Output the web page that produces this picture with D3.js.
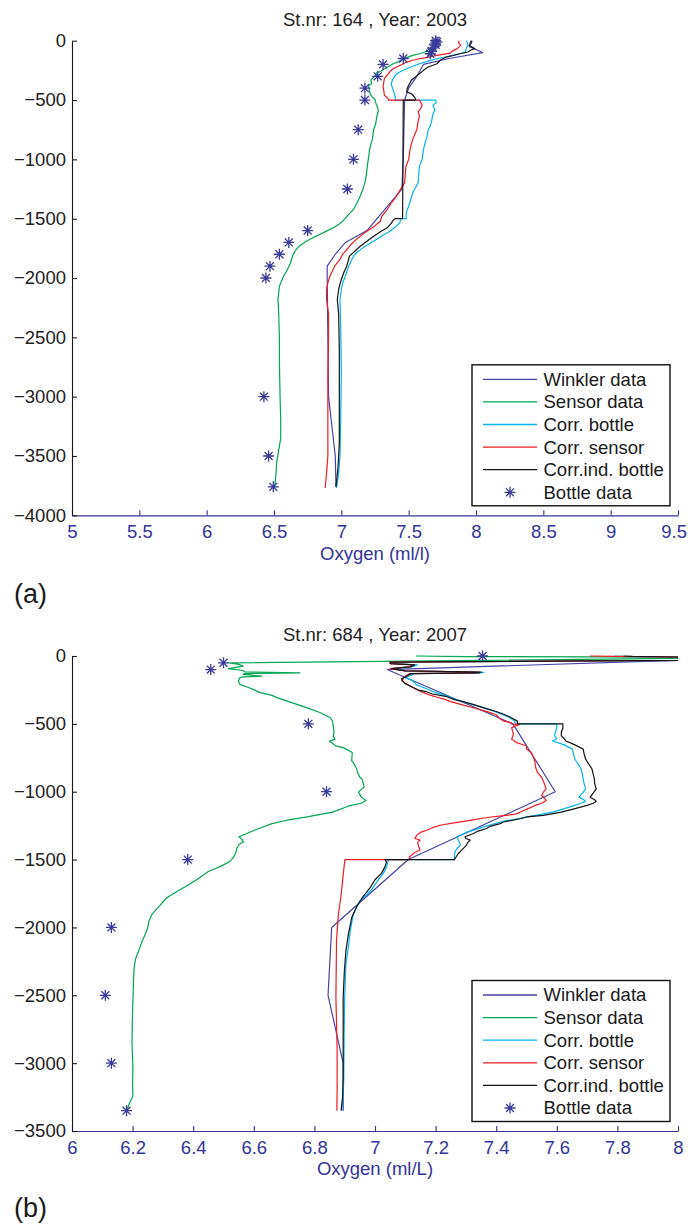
<!DOCTYPE html>
<html>
<head>
<meta charset="utf-8">
<script src="https://cdn.jsdelivr.net/npm/d3@7"></script>
<style>
  body { margin: 0; background: #fff; }
  svg text { font-family: "Liberation Sans", Arial, Helvetica, sans-serif; }
</style>
</head>
<body>
<svg id="fig" width="688" height="1225"></svg>
<script>
// ---------------------------------------------------------------
// Oxygen profiles: [depth (m), oxygen]
// ---------------------------------------------------------------
const legendLabels = ["Winkler data", "Sensor data", "Corr. bottle", "Corr. sensor", "Corr.ind. bottle", "Bottle data"];

// Station 164, 2003
const titleA = "St.nr: 164 , Year: 2003";
const xLabelA = "Oxygen (ml/l)";
const xTicksA = [5, 5.5, 6, 6.5, 7, 7.5, 8, 8.5, 9, 9.5];
const yTicksA = [0, -500, -1000, -1500, -2000, -2500, -3000, -3500, -4000];

const winklerA = [[0,7.96],[-50,7.95],[-100,8.05],[-150,7.80],[-200,7.61],[-300,7.56],[-400,7.50],[-500,7.47],[-750,7.465],[-1000,7.46],[-1250,7.45],[-1600,7.19],[-1700,7.03],[-1800,6.955],[-1900,6.895],[-2000,6.895],[-3000,6.905],[-3500,6.955],[-3760,6.96]];

const sensorA = [[0,7.70],[-30,7.69],[-60,7.67],[-95,7.62],[-110,7.58],[-124,7.53],[-140,7.49],[-152,7.46],[-174,7.43],[-194,7.385],[-211,7.36],[-236,7.32],[-260,7.29],[-272,7.26],[-290,7.255],[-306,7.24],[-330,7.22],[-362,7.225],[-380,7.20],[-400,7.205],[-427,7.21],[-450,7.215],[-469,7.225],[-485,7.24],[-497,7.25],[-520,7.255],[-539,7.26],[-565,7.27],[-595,7.275],[-630,7.265],[-665,7.26],[-700,7.255],[-750,7.24],[-790,7.235],[-834,7.23],[-870,7.22],[-918,7.21],[-960,7.205],[-1002,7.20],[-1040,7.195],[-1086,7.19],[-1140,7.185],[-1198,7.175],[-1250,7.16],[-1311,7.14],[-1370,7.115],[-1423,7.09],[-1470,7.05],[-1522,7.01],[-1550,6.98],[-1577,6.94],[-1605,6.89],[-1634,6.84],[-1660,6.79],[-1690,6.74],[-1730,6.69],[-1774,6.655],[-1810,6.64],[-1844,6.63],[-1880,6.62],[-1914,6.606],[-1950,6.59],[-1985,6.57],[-2030,6.555],[-2069,6.54],[-2120,6.535],[-2181,6.53],[-2300,6.535],[-2500,6.54],[-2700,6.54],[-3000,6.545],[-3200,6.55],[-3350,6.55],[-3450,6.535],[-3550,6.52],[-3650,6.515],[-3760,6.505]];

const corrBottleA = [[0,7.93],[-20,7.935],[-40,7.94],[-60,7.93],[-95,7.92],[-110,7.88],[-124,7.83],[-135,7.78],[-152,7.71],[-170,7.65],[-194,7.58],[-215,7.53],[-236,7.485],[-260,7.44],[-292,7.40],[-330,7.38],[-362,7.37],[-400,7.38],[-432,7.39],[-474,7.40],[-495,7.40],[-500,7.40],[-500,7.70],[-520,7.705],[-545,7.68],[-581,7.695],[-620,7.68],[-679,7.67],[-720,7.66],[-750,7.645],[-790,7.64],[-834,7.63],[-870,7.62],[-918,7.61],[-960,7.605],[-1002,7.60],[-1058,7.58],[-1120,7.575],[-1198,7.57],[-1240,7.55],[-1283,7.53],[-1340,7.515],[-1395,7.50],[-1440,7.485],[-1480,7.48],[-1500,7.485],[-1500,7.44],[-1535,7.435],[-1570,7.40],[-1606,7.36],[-1640,7.31],[-1676,7.26],[-1710,7.21],[-1746,7.16],[-1780,7.12],[-1816,7.09],[-1850,7.075],[-1886,7.06],[-1930,7.045],[-1985,7.03],[-2040,7.01],[-2097,7.00],[-2181,6.99],[-2400,6.995],[-2800,7.00],[-3200,6.995],[-3500,6.99],[-3650,6.98],[-3770,6.965]];

const corrSensorA = [[0,7.875],[-20,7.87],[-35,7.885],[-48,7.88],[-67,7.86],[-90,7.82],[-104,7.81],[-124,7.71],[-140,7.64],[-152,7.58],[-165,7.53],[-180,7.485],[-200,7.45],[-222,7.41],[-240,7.38],[-264,7.36],[-290,7.34],[-320,7.32],[-350,7.315],[-390,7.31],[-420,7.315],[-460,7.32],[-480,7.34],[-493,7.35],[-500,7.35],[-500,7.58],[-520,7.59],[-545,7.60],[-570,7.59],[-600,7.57],[-637,7.58],[-680,7.57],[-720,7.565],[-750,7.56],[-790,7.545],[-834,7.53],[-870,7.52],[-918,7.51],[-960,7.505],[-1002,7.50],[-1058,7.48],[-1120,7.475],[-1198,7.47],[-1250,7.44],[-1311,7.41],[-1370,7.37],[-1423,7.34],[-1480,7.30],[-1522,7.29],[-1560,7.25],[-1592,7.21],[-1630,7.16],[-1676,7.11],[-1720,7.07],[-1760,7.04],[-1800,7.01],[-1844,6.99],[-1900,6.95],[-1950,6.93],[-1985,6.915],[-2040,6.90],[-2097,6.89],[-2181,6.89],[-2300,6.905],[-2500,6.905],[-2800,6.90],[-3000,6.90],[-3300,6.90],[-3500,6.90],[-3650,6.89],[-3770,6.88]];

const corrIndBottleA = [[0,7.97],[-20,7.965],[-40,7.95],[-55,7.975],[-67,7.99],[-80,7.96],[-95,7.94],[-110,7.88],[-125,7.83],[-138,7.78],[-160,7.74],[-194,7.71],[-222,7.645],[-250,7.61],[-278,7.58],[-305,7.55],[-334,7.52],[-376,7.50],[-400,7.49],[-432,7.485],[-446,7.52],[-470,7.54],[-488,7.55],[-500,7.55],[-500,7.46],[-1500,7.455],[-1500,7.40],[-1507,7.39],[-1540,7.37],[-1577,7.34],[-1610,7.29],[-1648,7.24],[-1690,7.19],[-1732,7.14],[-1775,7.10],[-1816,7.06],[-1860,7.05],[-1900,7.04],[-1950,7.02],[-2013,7.00],[-2050,6.99],[-2097,6.98],[-2181,6.97],[-2300,6.98],[-2600,6.985],[-3000,6.985],[-3400,6.985],[-3600,6.975],[-3760,6.96]];

const bottleA = [[0,7.70],[-10,7.71],[-20,7.70],[-35,7.70],[-60,7.68],[-90,7.67],[-110,7.66],[-150,7.46],[-200,7.31],[-300,7.27],[-400,7.175],[-500,7.175],[-750,7.125],[-1000,7.09],[-1250,7.045],[-1600,6.75],[-1700,6.61],[-1800,6.54],[-1900,6.47],[-2000,6.44],[-3000,6.425],[-3500,6.46],[-3760,6.495]];

// Station 684, 2007
const titleB = "St.nr: 684 , Year: 2007";
const xLabelB = "Oxygen (ml/L)";
const xTicksB = [6, 6.2, 6.4, 6.6, 6.8, 7, 7.2, 7.4, 7.6, 7.8, 8];
const yTicksB = [0, -500, -1000, -1500, -2000, -2500, -3000, -3500];

const winklerB = [[0,8.45],[-100,7.04],[-500,7.455],[-1000,7.595],[-1500,7.11],[-2000,6.857],[-2500,6.845],[-3000,6.895],[-3350,6.895]];

const sensorB = [[0,7.135],[-4,7.30],[-10,8.30],[-51,6.52],[-62,6.55],[-75,6.565],[-93,6.516],[-107,6.565],[-118,6.57],[-124,6.752],[-130,6.57],[-136,6.565],[-149,6.626],[-155,6.56],[-161,6.554],[-185,6.549],[-209,6.554],[-230,6.58],[-246,6.598],[-270,6.62],[-290,6.66],[-307,6.676],[-331,6.708],[-355,6.74],[-380,6.774],[-416,6.818],[-453,6.851],[-480,6.86],[-516,6.862],[-560,6.865],[-589,6.862],[-614,6.868],[-626,6.85],[-662,6.87],[-675,6.895],[-711,6.925],[-740,6.924],[-772,6.923],[-784,6.928],[-833,6.94],[-857,6.942],[-894,6.95],[-906,6.957],[-943,6.962],[-965,6.964],[-1003,6.945],[-1016,6.949],[-1040,6.955],[-1065,6.97],[-1085,6.955],[-1101,6.92],[-1113,6.905],[-1150,6.86],[-1186,6.776],[-1210,6.71],[-1235,6.66],[-1260,6.63],[-1284,6.602],[-1310,6.575],[-1332,6.551],[-1350,6.56],[-1369,6.566],[-1390,6.55],[-1418,6.544],[-1455,6.54],[-1491,6.53],[-1515,6.52],[-1539,6.50],[-1560,6.48],[-1588,6.45],[-1620,6.43],[-1650,6.41],[-1686,6.385],[-1730,6.35],[-1783,6.312],[-1850,6.285],[-1900,6.265],[-1953,6.254],[-2000,6.25],[-2051,6.242],[-2110,6.23],[-2173,6.22],[-2230,6.21],[-2294,6.205],[-2400,6.203],[-2538,6.201],[-2700,6.199],[-2855,6.198],[-3025,6.201],[-3150,6.20],[-3244,6.201],[-3293,6.19],[-3350,6.18]];

const corrBottleB = [[0,7.79],[-3,7.82],[-25,8.60],[-45,7.06],[-56,7.06],[-66,7.14],[-80,7.12],[-93,7.06],[-110,7.10],[-120,7.36],[-125,7.35],[-130,7.13],[-141,7.12],[-160,7.10],[-178,7.121],[-195,7.13],[-214,7.138],[-232,7.16],[-251,7.18],[-270,7.20],[-290,7.23],[-300,7.245],[-320,7.265],[-336,7.29],[-355,7.32],[-373,7.345],[-390,7.37],[-409,7.395],[-431,7.42],[-455,7.445],[-480,7.46],[-500,7.465],[-500,7.60],[-530,7.60],[-560,7.595],[-589,7.593],[-610,7.60],[-626,7.586],[-655,7.625],[-686,7.651],[-720,7.655],[-759,7.659],[-795,7.67],[-832,7.68],[-870,7.684],[-906,7.687],[-940,7.69],[-979,7.695],[-1010,7.685],[-1040,7.673],[-1060,7.69],[-1072,7.695],[-1085,7.68],[-1101,7.659],[-1125,7.625],[-1150,7.586],[-1174,7.53],[-1199,7.47],[-1220,7.42],[-1243,7.384],[-1265,7.35],[-1284,7.326],[-1300,7.30],[-1321,7.282],[-1332,7.27],[-1357,7.275],[-1381,7.28],[-1394,7.282],[-1420,7.27],[-1442,7.264],[-1470,7.262],[-1500,7.262],[-1500,7.04],[-1503,7.044],[-1552,7.039],[-1600,7.028],[-1649,7.011],[-1722,6.989],[-1807,6.95],[-1905,6.928],[-2030,6.918],[-2148,6.912],[-2270,6.904],[-2513,6.90],[-2800,6.898],[-3100,6.897],[-3250,6.895],[-3350,6.89]];

const corrSensorB = [[0,7.71],[-3,7.79],[-25,8.60],[-45,7.05],[-56,7.05],[-66,7.13],[-80,7.11],[-93,7.05],[-110,7.10],[-118,7.34],[-124,7.335],[-130,7.115],[-141,7.105],[-160,7.095],[-180,7.09],[-202,7.10],[-226,7.12],[-251,7.14],[-270,7.16],[-287,7.18],[-300,7.20],[-320,7.23],[-336,7.25],[-355,7.28],[-385,7.33],[-410,7.37],[-433,7.40],[-463,7.413],[-480,7.425],[-492,7.45],[-500,7.45],[-505,7.477],[-528,7.451],[-560,7.455],[-577,7.457],[-614,7.451],[-638,7.467],[-650,7.484],[-663,7.50],[-686,7.50],[-710,7.515],[-735,7.521],[-760,7.525],[-784,7.528],[-820,7.53],[-857,7.536],[-895,7.55],[-930,7.557],[-979,7.565],[-1005,7.555],[-1028,7.55],[-1050,7.56],[-1065,7.565],[-1085,7.55],[-1101,7.528],[-1130,7.50],[-1150,7.48],[-1165,7.465],[-1176,7.424],[-1190,7.37],[-1211,7.314],[-1230,7.26],[-1247,7.215],[-1265,7.19],[-1284,7.17],[-1300,7.15],[-1320,7.138],[-1345,7.132],[-1357,7.149],[-1375,7.14],[-1393,7.143],[-1410,7.145],[-1430,7.149],[-1450,7.13],[-1466,7.121],[-1483,7.113],[-1500,7.113],[-1500,6.901],[-1550,6.898],[-1613,6.895],[-1700,6.891],[-1783,6.887],[-1905,6.879],[-2099,6.873],[-2513,6.871],[-2900,6.875],[-3200,6.875],[-3350,6.874]];

const corrIndBottleB = [[0,7.82],[-3,7.85],[-25,8.60],[-45,7.05],[-56,7.05],[-66,7.13],[-80,7.116],[-93,7.055],[-110,7.10],[-118,7.35],[-124,7.345],[-130,7.12],[-141,7.11],[-155,7.10],[-166,7.088],[-185,7.09],[-202,7.099],[-226,7.121],[-251,7.143],[-263,7.17],[-280,7.19],[-300,7.237],[-320,7.26],[-336,7.29],[-355,7.32],[-373,7.347],[-390,7.37],[-409,7.40],[-431,7.427],[-455,7.45],[-480,7.47],[-500,7.47],[-500,7.62],[-530,7.62],[-560,7.615],[-589,7.615],[-610,7.625],[-626,7.63],[-655,7.66],[-686,7.687],[-720,7.69],[-759,7.695],[-795,7.705],[-832,7.716],[-870,7.72],[-906,7.724],[-940,7.725],[-979,7.73],[-1010,7.72],[-1040,7.71],[-1060,7.725],[-1072,7.73],[-1085,7.72],[-1101,7.70],[-1125,7.66],[-1150,7.615],[-1174,7.555],[-1186,7.50],[-1199,7.48],[-1223,7.424],[-1235,7.413],[-1255,7.38],[-1271,7.368],[-1290,7.34],[-1308,7.325],[-1321,7.31],[-1332,7.297],[-1345,7.30],[-1357,7.314],[-1375,7.306],[-1393,7.302],[-1410,7.295],[-1430,7.286],[-1455,7.275],[-1479,7.268],[-1500,7.262],[-1500,7.033],[-1520,7.038],[-1552,7.033],[-1600,7.022],[-1649,7.0],[-1710,6.983],[-1771,6.961],[-1844,6.94],[-1929,6.923],[-2051,6.912],[-2173,6.904],[-2318,6.899],[-2513,6.895],[-2800,6.895],[-3100,6.895],[-3250,6.893],[-3350,6.888]];

const bottleB = [[0,7.355],[-50,6.50],[-100,6.458],[-500,6.78],[-1000,6.84],[-1500,6.382],[-2000,6.13],[-2500,6.11],[-3000,6.13],[-3350,6.18]];

// ---------------------------------------------------------------
// Styling
// ---------------------------------------------------------------
const lineColors = ["#4444a8", "#00a650", "#00b4f0", "#ee1c25", "#141414"];
const starColor = "#3a3a9c";
const axisBlue = "#34349a";
const textDark = "#222222";
const fontSize = 18.5;
const svgWidth = 688;

const svg = d3.select("#fig");

function asteriskPath(x, y, r) {
  const d = r * 0.72;
  return `M${x - r},${y}h${2 * r}M${x},${y - r}v${2 * r}` +
         `M${x - d},${y - d}l${2 * d},${2 * d}M${x - d},${y + d}l${2 * d},${-2 * d}`;
}

const fmtY = v => (v < 0 ? "\u2212" + Math.abs(v) : String(v));
const fmtX = v => String(+v.toFixed(1));

function drawPanel(p) {
  const g = svg.append("g").attr("id", p.id);
  const x = d3.scaleLinear().domain(p.xDomain).range([p.left, p.right]);
  const y = d3.scaleLinear().domain(p.yDomain).range([p.bottom, p.top]);

  const clipId = p.id + "-clip";
  g.append("clipPath").attr("id", clipId)
    .append("rect")
    .attr("x", p.left).attr("y", p.top - 1)
    .attr("width", p.right - p.left).attr("height", p.bottom - p.top + 1);

  // title
  g.append("text")
    .attr("x", (p.left + p.right) / 2).attr("y", p.titleY)
    .attr("text-anchor", "middle")
    .attr("font-size", fontSize).attr("fill", textDark)
    .text(p.title);

  // profiles
  const line = d3.line().x(d => x(d[1])).y(d => y(d[0]));
  const plot = g.append("g").attr("clip-path", `url(#${clipId})`);
  p.series.forEach((s, i) => {
    plot.append("path")
      .datum(s)
      .attr("d", line)
      .attr("fill", "none")
      .attr("stroke", lineColors[i])
      .attr("stroke-width", 1.2)
      .attr("stroke-linejoin", "round");
  });

  // bottle samples
  g.append("g").selectAll("path").data(p.bottles).join("path")
    .attr("d", d => asteriskPath(x(d[1]), y(d[0]), 5.5))
    .attr("fill", "none")
    .attr("stroke", starColor)
    .attr("stroke-width", 1.3);

  // x axis (ticks point inward)
  const xAxis = d3.axisBottom(x).tickValues(p.xTicks).tickFormat(fmtX)
    .tickSizeInner(-5).tickSizeOuter(0).tickPadding(10);
  const gx = g.append("g").attr("transform", `translate(0,${p.bottom})`).call(xAxis);
  gx.select(".domain").attr("stroke", axisBlue).attr("stroke-width", 1.2);
  gx.selectAll(".tick line").attr("stroke", axisBlue).attr("stroke-width", 1.1);
  gx.selectAll(".tick text").attr("fill", axisBlue).attr("font-size", fontSize)
    .attr("font-family", "'Liberation Sans', Arial, sans-serif");
  // keep the last label inside the figure edge
  gx.selectAll(".tick text").each(function () {
    const bb = this.getBBox();
    const tx = p.right;
    const over = (this.parentNode.transform.baseVal.consolidate().matrix.e + bb.x + bb.width) - (svgWidth - 1);
    if (over > 0) d3.select(this).attr("dx", -over);
  });

  // y axis
  const yAxis = d3.axisLeft(y).tickValues(p.yTicks).tickFormat(fmtY)
    .tickSizeInner(-5).tickSizeOuter(0).tickPadding(6);
  const gy = g.append("g").attr("transform", `translate(${p.left},0)`).call(yAxis);
  gy.select(".domain").attr("stroke", "#1a1a1a").attr("stroke-width", 1.1);
  gy.selectAll(".tick line").attr("stroke", "#1a1a1a").attr("stroke-width", 1.1);
  gy.selectAll(".tick text").attr("fill", textDark).attr("font-size", fontSize)
    .attr("font-family", "'Liberation Sans', Arial, sans-serif");

  // x label
  g.append("text")
    .attr("x", (p.left + p.right) / 2).attr("y", p.xLabelY)
    .attr("text-anchor", "middle")
    .attr("font-size", fontSize).attr("fill", axisBlue)
    .text(p.xLabel);

  // panel tag
  g.append("text")
    .attr("x", 14).attr("y", p.tagY)
    .attr("font-family", "'Liberation Serif', 'DejaVu Serif', serif")
    .attr("font-size", 27).attr("fill", "#1a1a1a")
    .text(p.tag);

  // legend
  const lw = 198, lh = 141, rowH = 22.6;
  const lx = p.right - 8 - lw, ly = p.bottom - 9.5 - lh;
  const lg = g.append("g").attr("transform", `translate(${lx},${ly})`);
  lg.append("rect").attr("width", lw).attr("height", lh)
    .attr("fill", "#fff").attr("stroke", "#111").attr("stroke-width", 1.4);
  legendLabels.forEach((lab, i) => {
    const cy = 14.5 + i * rowH;
    if (i < 5) {
      lg.append("line").attr("x1", 11).attr("x2", 65).attr("y1", cy).attr("y2", cy)
        .attr("stroke", lineColors[i]).attr("stroke-width", 1.3);
    } else {
      lg.append("path").attr("d", asteriskPath(38, cy, 5.5))
        .attr("fill", "none").attr("stroke", starColor).attr("stroke-width", 1.3);
    }
    lg.append("text").attr("x", 71.5).attr("y", cy).attr("dy", "0.35em")
      .attr("font-size", fontSize).attr("fill", "#1a1a1a").text(lab);
  });
}

drawPanel({
  id: "panel-a", title: titleA, xLabel: xLabelA, tag: "(a)",
  xDomain: [5, 9.5], yDomain: [-4000, 0], xTicks: xTicksA, yTicks: yTicksA,
  left: 72, right: 678, top: 40.7, bottom: 515.3,
  titleY: 26, xLabelY: 560, tagY: 603,
  series: [winklerA, sensorA, corrBottleA, corrSensorA, corrIndBottleA],
  bottles: bottleA
});

drawPanel({
  id: "panel-b", title: titleB, xLabel: xLabelB, tag: "(b)",
  xDomain: [6, 8], yDomain: [-3500, 0], xTicks: xTicksB, yTicks: yTicksB,
  left: 72, right: 678, top: 656, bottom: 1131,
  titleY: 641, xLabelY: 1175, tagY: 1217,
  series: [winklerB, sensorB, corrBottleB, corrSensorB, corrIndBottleB],
  bottles: bottleB
});
</script>
</body>
</html>
